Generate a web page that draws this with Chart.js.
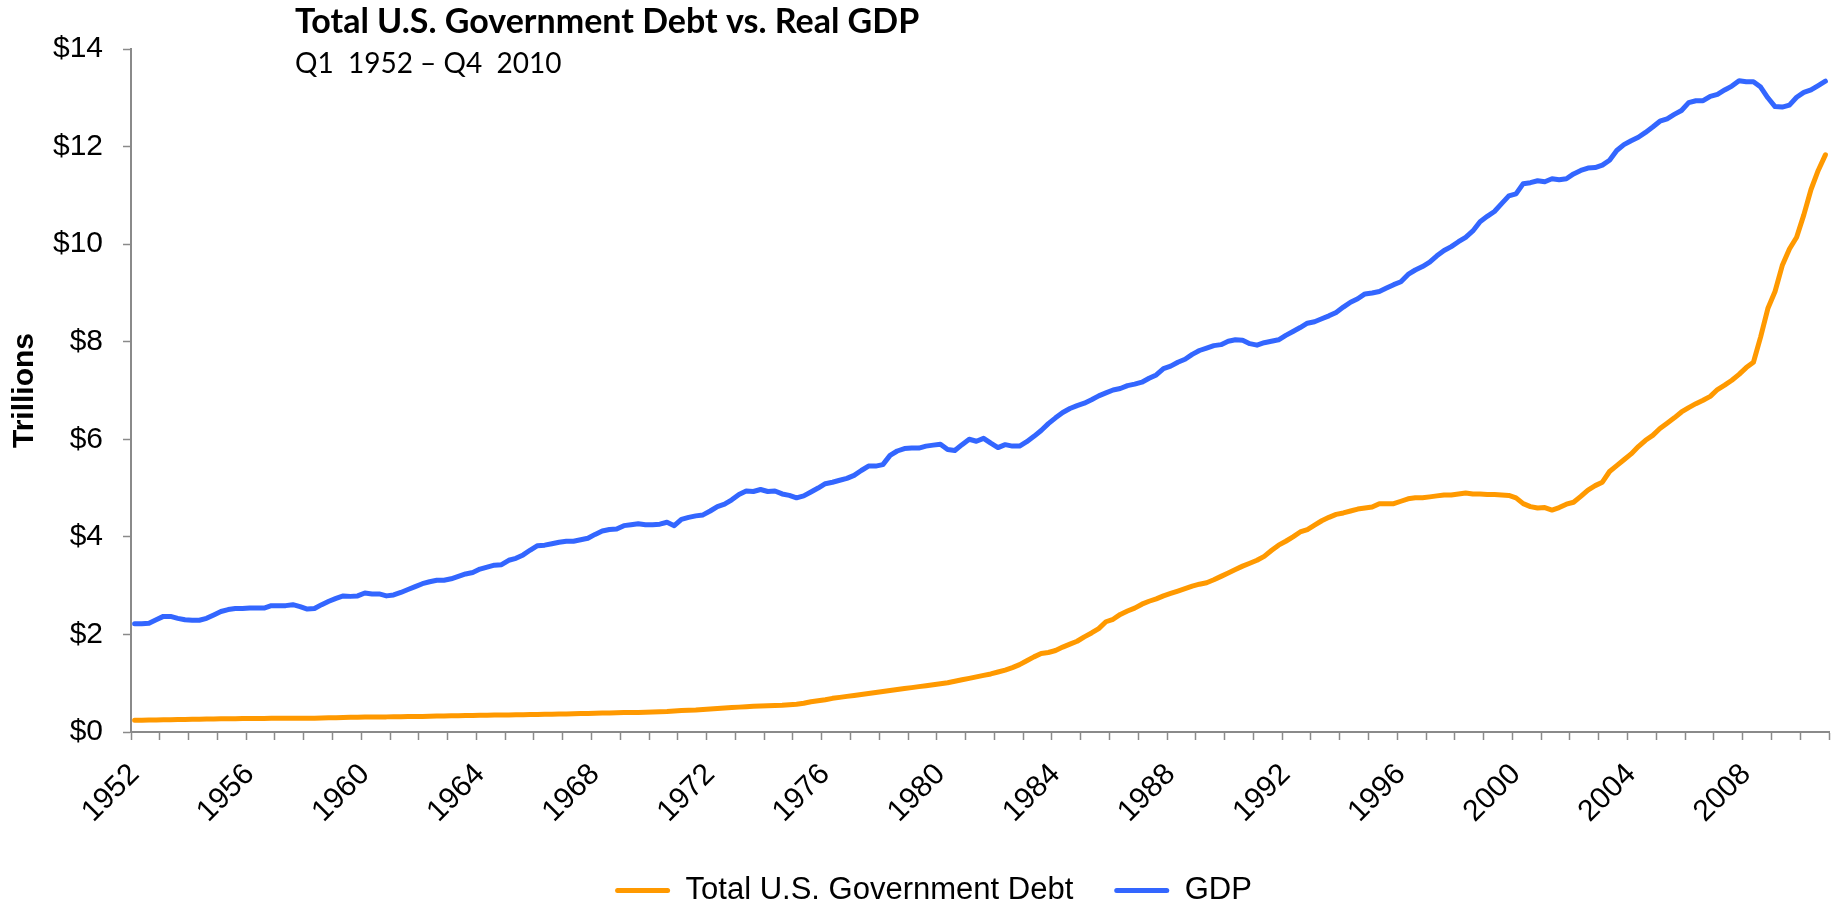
<!DOCTYPE html>
<html>
<head>
<meta charset="utf-8">
<title>Total U.S. Government Debt vs. Real GDP</title>
<script src="https://cdn.jsdelivr.net/npm/chart.js@4.4.1/dist/chart.umd.min.js"></script>
<style>
  html, body { margin: 0; padding: 0; background: #fff; overflow: hidden; }
</style>
</head>
<body>
<canvas id="chart" width="1837" height="911"></canvas>
<script>
// Quarterly series, Q1 1952 .. Q4 2010, in trillions of dollars
var FIRST_YEAR = 1952;
var LAST_YEAR = 2010;
var YEAR_LABELS = ['1952', '1956', '1960', '1964', '1968', '1972', '1976', '1980',
                   '1984', '1988', '1992', '1996', '2000', '2004', '2008'];
var Y_STEP = 2;
var Y_MAX = 14;

var TITLE = 'Total U.S. Government Debt vs. Real GDP';
var SUBTITLE = 'Q1  1952 \u2013 Q4  2010';
var SERIES_NAMES = ['Total U.S. Government Debt', 'GDP'];

var DEBT = [
  0.24, 0.24, 0.245, 0.245,   // 1952
  0.25, 0.25, 0.255, 0.255,
  0.26, 0.26, 0.265, 0.265,
  0.27, 0.27, 0.27, 0.275,
  0.275, 0.275, 0.275, 0.28,  // 1956
  0.28, 0.28, 0.28, 0.28,
  0.28, 0.28, 0.285, 0.29,
  0.29, 0.295, 0.30, 0.30,
  0.305, 0.31, 0.31, 0.31,    // 1960
  0.315, 0.315, 0.32, 0.32,
  0.32, 0.325, 0.33, 0.33,
  0.335, 0.335, 0.34, 0.34,
  0.345, 0.345, 0.35, 0.35,   // 1964
  0.35, 0.355, 0.355, 0.36,
  0.36, 0.365, 0.365, 0.37,
  0.37, 0.375, 0.38, 0.38,
  0.385, 0.39, 0.39, 0.395,   // 1968
  0.40, 0.40, 0.40, 0.405,
  0.41, 0.415, 0.42, 0.43,
  0.44, 0.445, 0.45, 0.46,
  0.47, 0.48, 0.49, 0.50,     // 1972
  0.51, 0.52, 0.53, 0.535,
  0.54, 0.545, 0.55, 0.56,
  0.57, 0.59, 0.62, 0.64,
  0.66, 0.69, 0.71, 0.73,     // 1976
  0.75, 0.77, 0.79, 0.81,
  0.83, 0.85, 0.87, 0.89,
  0.91, 0.93, 0.95, 0.97,
  0.99, 1.01, 1.04, 1.07,     // 1980
  1.10, 1.13, 1.16, 1.19,
  1.23, 1.27, 1.32, 1.38,
  1.46, 1.54, 1.61, 1.63,
  1.67, 1.74, 1.80, 1.86,     // 1984
  1.95, 2.03, 2.12, 2.26,
  2.31, 2.41, 2.48, 2.54,
  2.62, 2.68, 2.73, 2.79,
  2.84, 2.89, 2.94, 2.99,     // 1988
  3.03, 3.06, 3.12, 3.19,
  3.26, 3.33, 3.40, 3.46,
  3.52, 3.60, 3.72, 3.83,
  3.91, 4.00, 4.10, 4.15,     // 1992
  4.24, 4.33, 4.40, 4.46,
  4.49, 4.53, 4.57, 4.59,
  4.61, 4.68, 4.68, 4.68,
  4.73, 4.78, 4.80, 4.80,     // 1996
  4.82, 4.84, 4.86, 4.86,
  4.88, 4.90, 4.88, 4.88,
  4.87, 4.87, 4.86, 4.85,
  4.80, 4.68, 4.62, 4.59,     // 2000
  4.60, 4.55, 4.60, 4.67,
  4.71, 4.83, 4.96, 5.05,
  5.12, 5.34, 5.46, 5.58,
  5.70, 5.85, 5.98, 6.08,     // 2004
  6.22, 6.33, 6.44, 6.56,
  6.65, 6.73, 6.80, 6.88,
  7.02, 7.11, 7.21, 7.33,
  7.47, 7.58, 8.10, 8.68,     // 2008
  9.03, 9.56, 9.90, 10.14,
  10.60, 11.12, 11.51, 11.83
];

var GDP = [
  2.22, 2.22, 2.23, 2.30,     // 1952
  2.37, 2.37, 2.33, 2.30,
  2.29, 2.29, 2.33, 2.40,
  2.47, 2.51, 2.53, 2.53,
  2.54, 2.54, 2.54, 2.59,     // 1956
  2.59, 2.59, 2.61, 2.57,
  2.52, 2.53, 2.61, 2.68,
  2.74, 2.79, 2.78, 2.79,
  2.85, 2.83, 2.83, 2.79,     // 1960
  2.81, 2.86, 2.92, 2.98,
  3.04, 3.08, 3.11, 3.11,
  3.14, 3.19, 3.24, 3.27,
  3.34, 3.38, 3.42, 3.43,     // 1964
  3.52, 3.56, 3.63, 3.73,
  3.82, 3.83, 3.86, 3.89,
  3.91, 3.91, 3.94, 3.97,
  4.05, 4.12, 4.15, 4.16,     // 1968
  4.23, 4.25, 4.27, 4.25,
  4.25, 4.26, 4.30, 4.23,
  4.36, 4.40, 4.43, 4.45,
  4.53, 4.62, 4.67, 4.76,     // 1972
  4.87, 4.94, 4.93, 4.97,
  4.93, 4.94, 4.88, 4.85,
  4.80, 4.84, 4.92, 5.00,
  5.09, 5.12, 5.16, 5.20,     // 1976
  5.26, 5.36, 5.45, 5.45,
  5.48, 5.67, 5.76, 5.81,
  5.82, 5.82, 5.86, 5.88,
  5.90, 5.79, 5.77, 5.89,     // 1980
  6.00, 5.96, 6.02, 5.92,
  5.83, 5.89, 5.86, 5.86,
  5.95, 6.06, 6.18, 6.32,
  6.44, 6.55, 6.63, 6.69,     // 1984
  6.74, 6.81, 6.89, 6.95,
  7.01, 7.04, 7.10, 7.13,
  7.17, 7.25, 7.32, 7.45,
  7.50, 7.58, 7.64, 7.74,     // 1988
  7.82, 7.87, 7.92, 7.94,
  8.01, 8.04, 8.03, 7.96,
  7.93, 7.98, 8.01, 8.04,
  8.13, 8.21, 8.29, 8.38,     // 1992
  8.41, 8.47, 8.53, 8.60,
  8.71, 8.81, 8.88, 8.98,
  9.00, 9.03, 9.10, 9.17,
  9.23, 9.38, 9.47, 9.54,     // 1996
  9.63, 9.76, 9.87, 9.95,
  10.05, 10.14, 10.27, 10.46,
  10.57, 10.67, 10.83, 10.99,
  11.03, 11.24, 11.26, 11.30, // 2000
  11.28, 11.34, 11.32, 11.34,
  11.44, 11.51, 11.56, 11.57,
  11.62, 11.72, 11.92, 12.04,
  12.12, 12.19, 12.29, 12.40, // 2004
  12.52, 12.57, 12.66, 12.74,
  12.90, 12.94, 12.94, 13.03,
  13.07, 13.16, 13.24, 13.35,
  13.33, 13.33, 13.22, 13.00, // 2008
  12.82, 12.81, 12.85, 13.01,
  13.11, 13.16, 13.25, 13.34
];

var ORANGE = 'rgb(255,153,0)';
var BLUE = 'rgb(51,102,255)';
var AXIS_GREY = '#8a8a8a';
var LEFT_PAD = 38;      // layout padding left of the y axis
var AXIS_LEFT = 131;    // where the plot starts

var quarters = [];
for (var y = FIRST_YEAR; y <= LAST_YEAR; y++) {
  for (var q = 1; q <= 4; q++) quarters.push('Q' + q + ' ' + y);
}

Chart.defaults.font.family = "'Liberation Sans', Arial, sans-serif";
Chart.defaults.color = '#000';

// Title block sits over the top-left of the plot, so it is painted by hand
var header = {
  id: 'header',
  afterDraw: function (chart) {
    var ctx = chart.ctx;
    ctx.save();
    ctx.fillStyle = '#000';
    ctx.textAlign = 'left';
    ctx.textBaseline = 'alphabetic';
    ctx.font = 'bold 34px Lato, "Open Sans", sans-serif';
    ctx.fillText(TITLE, 295, 33);
    ctx.font = '28px Lato, "Open Sans", sans-serif';
    ctx.fillText(SUBTITLE, 295, 73);
    ctx.restore();
  }
};

function lineDataset(label, data, color) {
  return {
    label: label, data: data,
    borderColor: color, backgroundColor: color,
    borderWidth: 5, pointRadius: 0, pointHoverRadius: 0,
    tension: 0, borderCapStyle: 'round', borderJoinStyle: 'round'
  };
}

new Chart(document.getElementById('chart'), {
  type: 'line',
  data: {
    labels: quarters,
    datasets: [
      lineDataset(SERIES_NAMES[0], DEBT, ORANGE),
      lineDataset(SERIES_NAMES[1], GDP, BLUE)
    ]
  },
  plugins: [header],
  options: {
    responsive: false,
    animation: false,
    layout: { padding: { left: LEFT_PAD, right: 8, top: 49, bottom: -5 } },
    plugins: {
      tooltip: { enabled: false },
      legend: {
        position: 'bottom',
        labels: {
          boxWidth: 55, boxHeight: 5, padding: 41,
          font: { size: 31 },
          generateLabels: function (chart) {
            return Chart.defaults.plugins.legend.labels.generateLabels(chart).map(function (item) {
              item.lineWidth = 0;
              item.fillStyle = item.strokeStyle;
              item.borderRadius = 2.5;
              return item;
            });
          }
        }
      }
    },
    scales: {
      x: {
        type: 'category',
        offset: true,
        border: { color: AXIS_GREY, width: 2 },
        grid: {
          offset: true,
          drawOnChartArea: false,
          tickLength: 8,
          tickWidth: 1.5,
          // one mark per year (every fourth quarter boundary)
          tickColor: function (c) {
            return (c.type !== 'tick' || c.index % 4 === 0) ? AXIS_GREY : 'rgba(0,0,0,0)';
          }
        },
        ticks: {
          autoSkip: false, minRotation: 45, maxRotation: 45, padding: 17,
          font: { size: 30 },
          callback: function (v, i) {
            return i % 16 === 0 ? YEAR_LABELS[i / 16] : '';
          }
        },
        afterFit: function (s) { s.height = 102; s.paddingLeft = 0; s.paddingRight = 0; }
      },
      y: {
        min: 0, max: Y_MAX,
        border: { color: AXIS_GREY, width: 2 },
        grid: { drawOnChartArea: false, tickLength: 8, tickWidth: 1.5, tickColor: AXIS_GREY },
        ticks: {
          stepSize: Y_STEP, padding: 20,
          font: { size: 30 },
          callback: function (v) { return '$' + v; }
        },
        title: {
          display: true, text: 'Trillions',
          font: { size: 30, weight: 'bold' },
          padding: { top: 7 - LEFT_PAD, bottom: 0 }
        },
        afterFit: function (s) { s.width = AXIS_LEFT - LEFT_PAD; }
      }
    }
  }
});
</script>
</body>
</html>
